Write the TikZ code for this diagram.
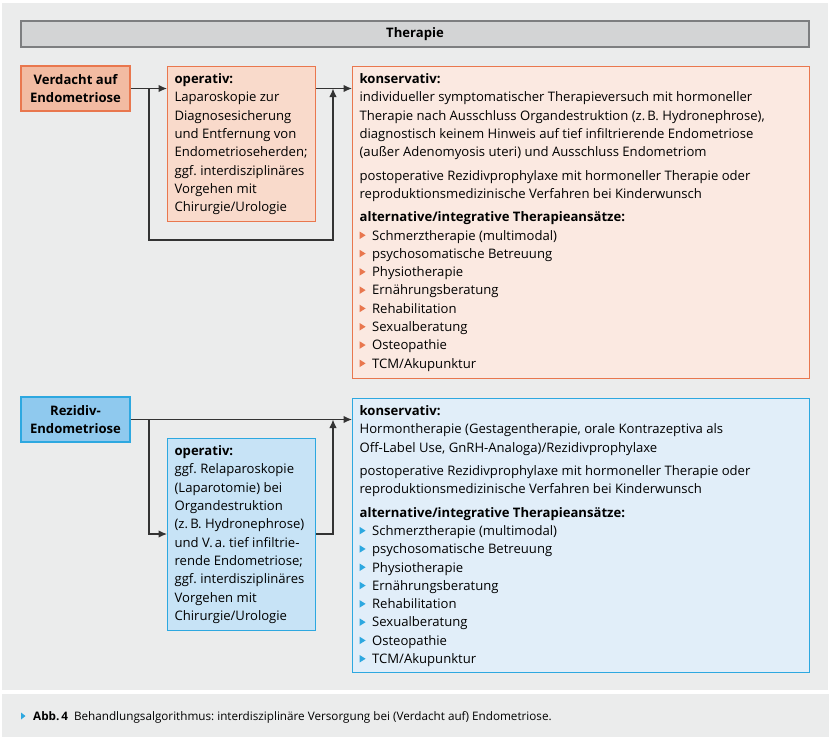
\documentclass[tikz,border=0pt]{standalone}
\usepackage{fontspec}
\setmainfont{Open Sans}
\usepackage{tikz}
\usepackage{xcolor}
\usetikzlibrary{arrows.meta,positioning,calc}
\frenchspacing

\definecolor{panelgray}{HTML}{EBECEC}
\definecolor{headfill}{HTML}{D3D4D5}
\definecolor{headline}{HTML}{7D7E80}
\definecolor{orline}{HTML}{E9774E}
\definecolor{orstrong}{HTML}{F2BBA2}
\definecolor{ormid}{HTML}{F9DACB}
\definecolor{orlight}{HTML}{FBE9E1}
\definecolor{blline}{HTML}{2DA8E0}
\definecolor{blstrong}{HTML}{8FC9EE}
\definecolor{blmid}{HTML}{C7E3F6}
\definecolor{bllight}{HTML}{E1EEF9}
\definecolor{connline}{HTML}{333333}

\newcommand{\boxfont}{\fontsize{13.1}{18.3}\selectfont}
\newcommand{\tri}[1]{\makebox[12.5pt][l]{\tikz[baseline=0pt]\fill[#1] (0pt,1pt) -- (0pt,8.5pt) -- (6pt,4.75pt) -- cycle;}}
\newcommand{\boxtext}[3]{\parbox[c][#2][t]{#1}{\boxfont\frenchspacing\hyphenpenalty=10000\exhyphenpenalty=10000\rule{0pt}{17pt}#3}}
\newcommand{\altlist}[1]{\textbf{alternative/integrative Therapieansätze:}\par
	\tri{#1}Schmerztherapie (multimodal)\par
	\tri{#1}psychosomatische Betreuung\par
	\tri{#1}Physiotherapie\par
	\tri{#1}Ernährungsberatung\par
	\tri{#1}Rehabilitation\par
	\tri{#1}Sexualberatung\par
	\tri{#1}Osteopathie\par
	\tri{#1}TCM/Akupunktur}

\tikzset{
	conn/.style={draw=connline, line width=1.2pt, -{Latex[length=8.5pt,width=7.5pt]}},
	casebox/.style={draw, line width=1.2pt, minimum width=109pt, minimum height=45pt, inner sep=0pt, align=center, font=\boxfont\bfseries},
	infobox/.style={draw, line width=1.2pt, anchor=north west, inner xsep=7pt, inner ysep=0pt},
}

\begin{document}
\begin{tikzpicture}[x=1pt, y=-1pt]
			\useasboundingbox (0,0) rectangle (831,740);
			\fill[white] (0,0) rectangle (831,740);
			\fill[panelgray] (2,3) rectangle (828,690);
			\fill[panelgray] (2,694) rectangle (829,737);

			\node[draw=headline, fill=headfill, line width=1.5pt, minimum width=788pt, minimum height=26pt, font=\boxfont\bfseries] (ther) at (415,34){Therapie};

			% Verdacht auf Endometriose
			\node[casebox, draw=orline, fill=orstrong] (verd) at (75.5,88.5){Verdacht auf\\Endometriose};
			\node[infobox, draw=orline, fill=ormid] (opv) at (167,66){\boxtext{134pt}{155pt}{%
				\textbf{operativ:}\\
				Laparoskopie zur\\
				Diagnosesicherung\\
				und Entfernung von\\
				Endometrioseherden;\\
				ggf. interdisziplinäres\\
				Vorgehen mit\\
				Chirurgie/Urologie}};
			\node[infobox, draw=orline, fill=orlight] (kons1) at (352,66){\boxtext{443pt}{312pt}{%
				\textbf{konservativ:}\\
				individueller symptomatischer Therapieversuch mit hormoneller\\
				Therapie nach Ausschluss Organdestruktion (z.\,B. Hydronephrose),\\
				diagnostisch keinem Hinweis auf tief infiltrierende Endometriose\\
				(außer Adenomyosis uteri) und Ausschluss Endometriom\par\vspace{5pt}
				postoperative Rezidivprophylaxe mit hormoneller Therapie oder\\
				reproduktionsmedizinische Verfahren bei Kinderwunsch\par\vspace{5pt}
				\altlist{orline}}};

				\coordinate (br1) at (149,88.5);
				\coordinate (lo1) at (149,240);
				\coordinate (mg1) at (333,88.5);
				\draw[conn] (verd.east) to (verd.east -| opv.west);
				\draw[conn] (br1) -- (lo1) -| (mg1);
				\draw[conn] (opv.east |- verd.east) to (kons1.west |- verd.east);

			% Rezidiv-Endometriose
			\node[casebox, draw=blline, fill=blstrong] (rez) at (75.5,419.5){Rezidiv-\\Endometriose};
			\node[infobox, draw=blline, fill=blmid] (opr) at (167,438){\boxtext{134pt}{192pt}{%
				\textbf{operativ:}\\
				ggf. Relaparoskopie\\
				(Laparotomie) bei\\
				Organdestruktion\\
				(z.\,B. Hydronephrose)\\
				und V.\,a. tief infiltrie-\\
				rende Endometriose;\\
				ggf. interdisziplinäres\\
				Vorgehen mit\\
				Chirurgie/Urologie}};
			\node[infobox, draw=blline, fill=bllight] (kons2) at (352,398){\boxtext{443pt}{274pt}{%
				\textbf{konservativ:}\\
				Hormontherapie (Gestagentherapie, orale Kontrazeptiva als\\
				Off-Label Use, GnRH-Analoga)/Rezidivprophylaxe\par\vspace{5pt}
				postoperative Rezidivprophylaxe mit hormoneller Therapie oder\\
				reproduktionsmedizinische Verfahren bei Kinderwunsch\par\vspace{5pt}
				\altlist{blline}}};

				\coordinate (br2) at (149,419.5);
				\coordinate (lo2) at (149,534);
				\coordinate (mg2) at (333,419.5);
				\draw[conn] (rez.east) to (kons2.west |- rez.east);
				\draw[conn] (br2) -- (lo2) -- (lo2 -| opr.west);
				\draw[conn] (opr.east |- lo2) -| (mg2);

			% caption
			\fill[blline] (21,712.5) -- (21,719.5) -- (25.5,716) -- cycle;
			\node[anchor=base west, inner sep=0pt, font=\fontsize{11.7}{13}\selectfont] (cap) at (33,720){\textbf{Abb.\,4}\hspace{6pt}Behandlungsalgorithmus: interdisziplinäre Versorgung bei (Verdacht auf) Endometriose.};
\end{tikzpicture}
\end{document}
